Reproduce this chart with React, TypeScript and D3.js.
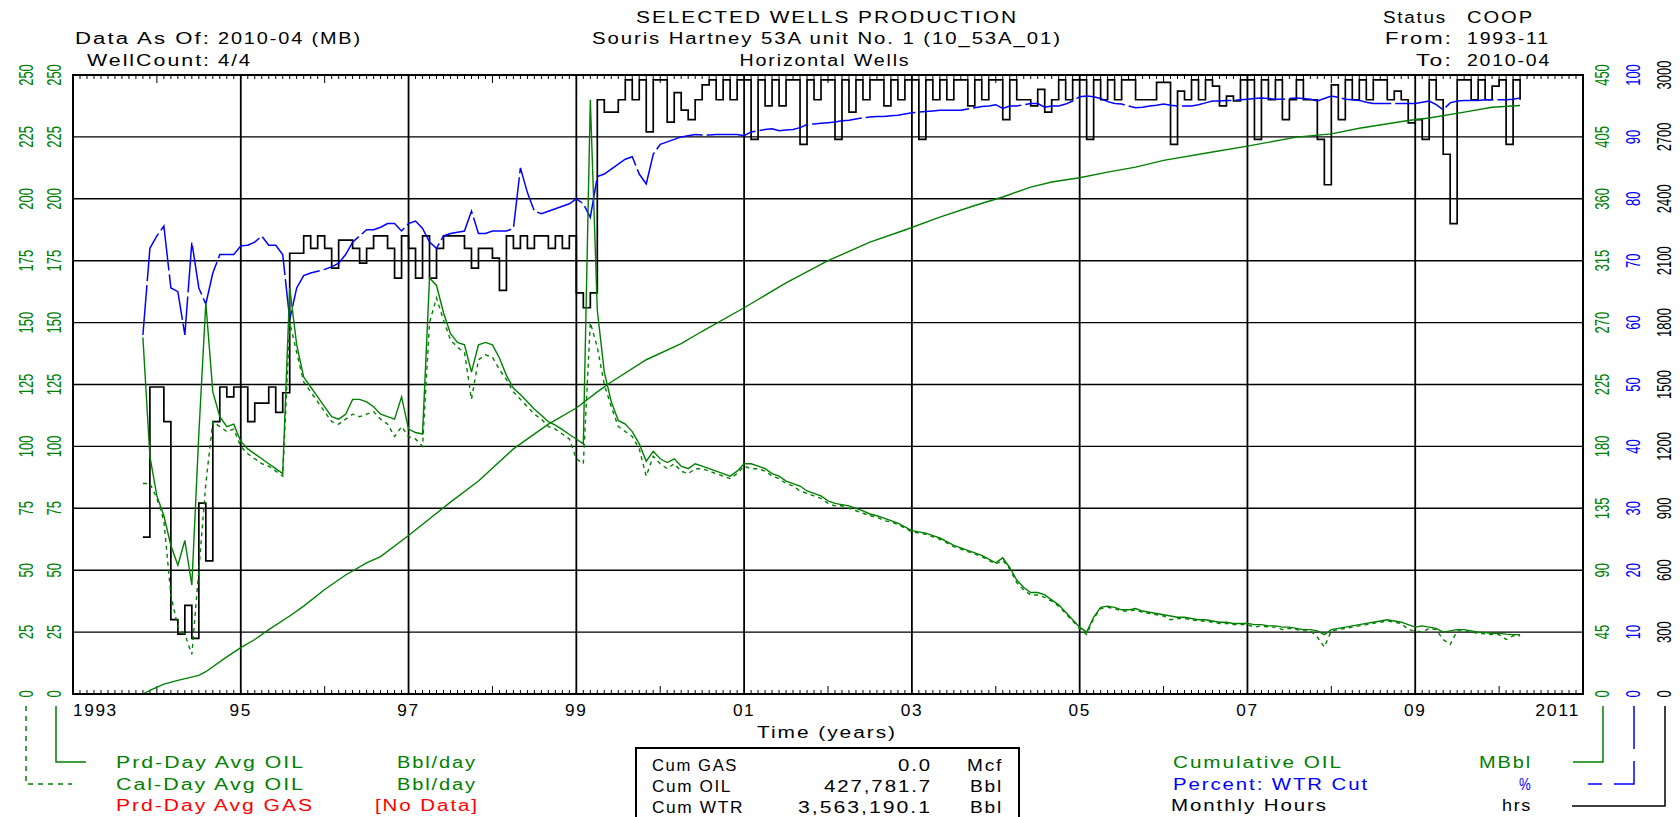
import React from "react";
import * as d3 from "d3";

// ---------- DATA (monthly, first month = 1993-11, last = 2010-04) ----------
const FIRST_YEAR = 1993;
const FIRST_MONTH = 11;

// Monthly Hours (hrs)
const MONTHLY_HOURS = [
  760, 1488,
  1488, 1320, 360, 290, 430, 270, 925, 645, 1320, 1488, 1440, 1488,
  1488, 1320, 1410, 1410, 1488, 1365, 1460, 2136, 2136, 2220, 2160, 2220,
  2160, 2064, 2200, 2200, 2160, 2088, 2160, 2220, 2220, 2160, 2016, 2220,
  2160, 2016, 2220, 2016, 2160, 2220, 2220, 2220, 2160, 2064, 2160, 2160,
  2112, 1956, 2220, 2160, 2220, 2160, 2220, 2220, 2160, 2220, 2160, 2220,
  1944, 1872, 1944, 2880, 2820, 2820, 2880, 2976, 2880, 2976, 2724, 2976,
  2976, 2772, 2915, 2830, 2784, 2880, 2952, 2976, 2880, 2976, 2880, 2976,
  2976, 2688, 2976, 2850, 2976, 2850, 2976, 2976, 2664, 2976, 2880, 2976,
  2976, 2688, 2976, 2820, 2976, 2880, 2976, 2976, 2850, 2976, 2880, 2976,
  2976, 2688, 2976, 2880, 2976, 2880, 2976, 2976, 2850, 2976, 2880, 2976,
  2976, 2784, 2976, 2880, 2880, 2850, 2930, 2820, 2880, 2976, 2880, 2976,
  2976, 2688, 2976, 2880, 2976, 2880, 2976, 2976, 2880, 2880, 2880, 2964,
  2964, 2664, 2922, 2880, 2976, 2880, 2976, 2946, 2850, 2898, 2874, 2976,
  2976, 2688, 2976, 2880, 2976, 2784, 2880, 2976, 2880, 2880, 2688, 2468,
  2952, 2784, 2976, 2880, 2976, 2880, 2976, 2976, 2880, 2922, 2880, 2768,
  2784, 2688, 2976, 2880, 2616, 2280, 2976, 2976, 2880, 2976, 2880, 2946,
  2976, 2664, 2976, 2880,
];

// Percent: WTR Cut (%)
const WTR_CUT_PCT = [
  58, 72,
  74, 75.6, 65.6, 65, 58, 73, 65.6, 63, 68, 71, 71, 71,
  72.4, 72.5, 73, 74, 72.5, 72.5, 71, 60.5, 65.6, 67.6, 68, 68.3,
  68.6, 69, 69.6, 71, 73, 74, 75, 75, 75.4, 76, 76, 74.8,
  76, 76.4, 75.2, 73, 72, 74, 74.4, 74.6, 74.8, 78, 74.4, 74.4,
  74.8, 74.8, 74.8, 75.2, 85, 81, 78, 77.6, 78, 78.4, 78.8, 79.2,
  80, 79.2, 77, 83.6, 84, 84.8, 85.6, 86.4, 86.8, 84, 82.4, 87.2,
  88.8, 89.2, 89.6, 90, 90.2, 90.4, 90.3, 90.3, 90.4, 90.4, 90.4, 90.4,
  90.2, 90.8, 91.0, 91.2, 91.3, 91.0, 91.1, 91.2, 91.5, 92.0, 92.1, 92.2,
  92.3, 92.4, 92.6, 92.7, 92.9, 93.1, 93.2, 93.3, 93.3, 93.4, 93.5, 93.7,
  93.9, 94.0, 94.1, 94.2, 94.3, 94.3, 94.3, 94.3, 94.5, 94.7, 94.9, 95.0,
  95.2, 94.6, 95.0, 95.0, 95.2, 95.4, 95.4, 94.8, 95.0, 95.0, 95.3, 95.8,
  96.5, 96.6, 96.5, 96.2, 95.7, 95.4, 95.3, 95.0, 94.7, 94.8, 95.0, 95.1,
  95.3, 95.1, 95.0, 95.0, 95.0, 95.2, 95.5, 95.8, 95.8, 95.9, 95.9, 96.0,
  96.1, 96.2, 96.3, 96.2, 96.1, 96.1, 96.2, 96.3, 96.2, 96.1, 95.8, 96.2,
  96.6, 96.4, 96.1, 96.0, 95.9, 95.6, 95.4, 95.4, 95.4, 95.4, 95.4, 95.4,
  95.4, 95.6, 95.8, 95.2, 94.4, 95.5, 95.8, 95.9, 95.9, 95.9, 96.0, 96.0,
  96.0, 96.0, 96.1, 96.3,
];

// Prd-Day Avg OIL (Bbl/day)
const PRD_DAY_OIL = [
  144, 96,
  80, 72, 60, 52, 62, 44, 105, 158, 122, 112, 108, 109,
  102, 99, 97, 95, 93, 91, 89, 164, 141, 128, 124, 120,
  116, 112, 111, 113, 119, 119, 118, 116, 113, 112, 111, 120,
  107, 105.6, 105, 168, 165, 154, 145.5, 142, 141, 130, 141, 142,
  141, 135.7, 128.7, 123.5, 121, 118, 115, 112.6, 110, 108.6, 106.8, 104.8,
  103, 101, 240, 155, 130, 118, 110.5, 109, 106, 101, 94, 98,
  95, 93.5, 95, 92, 91, 93, 92, 91, 90, 89, 88, 90,
  93, 93, 92, 91, 89, 88, 86, 85, 84, 82, 81, 80,
  78, 77, 76.5, 76, 75, 74, 72.7, 72, 71, 70, 69, 67.5,
  66, 65.5, 65, 64, 63, 61.5, 60, 59, 58, 57, 56, 54.5,
  53, 55, 51, 46, 43, 41, 41, 40, 38, 36, 33, 30,
  27, 25, 31, 35, 35.5, 35, 34, 34, 34.5, 33.5, 33, 32.5,
  32, 31.5, 31, 31, 30.5, 30, 30, 29.5, 29, 29, 28.5, 28.5,
  28.5, 28, 28, 27.5, 27.5, 27, 27, 26.5, 26, 26, 25.5, 24,
  26, 26.5, 27, 27.5, 28, 28.5, 29, 29.5, 30, 29.5, 29, 28,
  27, 27.5, 27, 26.5, 25, 25.5, 26, 26, 25.5, 25, 24.8, 24.5,
  24.5, 24.2, 24, 24,
];

// Cal-Day Avg OIL (Bbl/day)
const CAL_DAY_OIL = [
  85, 85,
  79, 70, 40, 27, 24, 16, 50, 85, 110, 108, 106, 107,
  100, 97, 95, 93, 92, 90, 88, 150, 138, 126, 122, 118,
  114, 110, 109, 111, 113, 112, 113, 114, 111, 109, 104, 108,
  104, 103, 100, 150, 160, 151, 143, 140, 138, 119, 135, 137,
  136, 131, 127, 122, 119, 116, 113, 111, 108, 107, 105, 103,
  95, 93, 150, 140, 125, 116, 108, 106, 104, 99, 88, 96,
  93, 91, 93, 90, 89, 91, 91, 90, 89, 88, 87, 89,
  92, 91, 91, 90, 88, 87, 85, 84, 82, 81, 80, 79,
  77, 76, 76, 75, 74, 73, 72, 71.5, 70, 69.5, 68.5, 67,
  65.5, 65, 64.5, 63.5, 62.5, 61, 59.5, 58.5, 57.5, 56.5, 55.5, 54,
  52.5, 54, 50.5, 45, 42, 40, 40, 39, 37.5, 35.5, 32.5, 29.5,
  26.5, 24, 30.5, 34.5, 35, 34.5, 33.5, 33.5, 34, 33, 32.5, 32,
  31.5, 30, 30.5, 30.5, 30, 29.5, 29.5, 29, 28.5, 28.5, 28, 28,
  28, 27, 27.5, 27, 27, 26, 26.5, 26, 25.5, 25.5, 23, 19,
  25.5, 26, 26.5, 27, 27.5, 28, 28.5, 29, 29.5, 29, 28.5, 26,
  25.5, 25, 26.5, 26, 22, 20, 25.5, 25.5, 25, 24.5, 24.3, 24,
  24, 22, 23.5, 23.5,
];

// Cumulative OIL (MBbl), read at these month offsets from 1993-11
const CUM_OIL_MONTH = [0, 1, 3, 5, 8, 9, 12, 14, 16, 18, 21, 23, 26, 29, 32, 34, 38, 44, 48, 53, 58, 62, 65, 67, 72, 77, 80, 86, 92, 98, 104, 109, 114, 119, 123, 127, 130, 134, 138, 142, 146, 153, 158, 165, 170, 174, 181, 184, 189, 193, 197];
const CUM_OIL_MBBL = [0, 2.7, 7.2, 9.9, 13.5, 16.2, 27, 33.7, 39.6, 46.8, 56.7, 63.9, 76, 86.5, 95.4, 99.9, 115.2, 139.5, 154.8, 178.2, 196.2, 207.9, 219.6, 226.8, 243, 254.7, 263.7, 280.8, 298.8, 315, 328.5, 337.3, 346.7, 355.1, 361.3, 368.5, 372.2, 375.3, 379.4, 383, 387.9, 394, 398.3, 404.8, 407.2, 411.3, 416.9, 418.7, 423, 426.6, 427.8];

// Axis ticks / labels
const X_LABEL_YEARS = [1993, 1995, 1997, 1999, 2001, 2003, 2005, 2007, 2009, 2011];
const X_LABELS = ["1993", "95", "97", "99", "01", "03", "05", "07", "09", "2011"];
const RATE_TICKS = [0, 25, 50, 75, 100, 125, 150, 175, 200, 225, 250];
const CUM_TICKS = [0, 45, 90, 135, 180, 225, 270, 315, 360, 405, 450];
const PCT_TICKS = [0, 10, 20, 30, 40, 50, 60, 70, 80, 90, 100];
const HRS_TICKS = [0, 300, 600, 900, 1200, 1500, 1800, 2100, 2400, 2700, 3000];

// ---------- LAYOUT ----------
const W = 1680;
const H = 817;
const L = 73;
const R = 1583;
const T = 75;
const B = 694;
const GREEN = "#008000";
const BLUE = "#0000ff";
const RED = "#ff0000";
const FONT = "'Liberation Sans', Arial, sans-serif";

const monthT = (i: number) => FIRST_YEAR + (FIRST_MONTH - 1 + i) / 12;

function Txt(props: { x: number; y: number; w: number; anchor?: string; fill?: string; text: string; size?: number }) {
  const { x, y, w, anchor = "start", fill = "#000", text, size = 16 } = props;
  return (
    <text
      x={x}
      y={y}
      textLength={w}
      lengthAdjust="spacingAndGlyphs"
      textAnchor={anchor as any}
      fill={fill}
      fontSize={size}
      fontFamily={FONT}
      style={{ letterSpacing: "1.5px" }}
    >
      {text}
    </text>
  );
}

function VLabel(props: { cx: number; cy: number; text: string; fill: string }) {
  return (
    <text
      transform={`translate(${props.cx},${props.cy}) scale(1.5,1) rotate(-90)`}
      textAnchor="middle"
      dominantBaseline="central"
      fontSize={13}
      fontFamily={FONT}
      fill={props.fill}
    >
      {props.text}
    </text>
  );
}

export default function App() {
  const x = d3.scaleLinear().domain([1993, 2011]).range([L, R]);
  const yRate = d3.scaleLinear().domain([0, 250]).range([B, T]);
  const yCum = d3.scaleLinear().domain([0, 450]).range([B, T]);
  const yPct = d3.scaleLinear().domain([0, 100]).range([B, T]);
  const yHrs = d3.scaleLinear().domain([0, 3000]).range([B, T]);

  const mk = (ys: d3.ScaleLinear<number, number>) =>
    d3.line<number>().x((_, i) => x(monthT(i))).y((v) => ys(v));

  const hoursPath = d3
    .line<number>()
    .curve(d3.curveStepAfter)
    .x((_, i) => x(monthT(i)))
    .y((v) => yHrs(v))(MONTHLY_HOURS) as string;
  const pctPath = mk(yPct)(WTR_CUT_PCT) as string;
  const prdPath = mk(yRate)(PRD_DAY_OIL) as string;
  const calPath = mk(yRate)(CAL_DAY_OIL) as string;
  const cumPath = d3
    .line<number>()
    .x((_, i) => x(monthT(CUM_OIL_MONTH[i])))
    .y((v) => yCum(v))(CUM_OIL_MBBL) as string;

  // month ticks along top & bottom frame
  const monthTicks = d3.range(0, 18 * 12 + 1);

  return (
    <svg width={W} height={H} style={{ position: "absolute", left: 0, top: 0, background: "#fff" }}>
      <rect x={0} y={0} width={W} height={H} fill="#fff" />

      {/* Header */}
      <Txt x={211} y={44} w={136} anchor="end" text="Data As Of:" />
      <Txt x={218} y={44} w={144} text="2010-04 (MB)" />
      <Txt x={211} y={66} w={124} anchor="end" text="WellCount:" />
      <Txt x={218} y={66} w={34} text="4/4" />

      <Txt x={827} y={23} w={382} anchor="middle" text="SELECTED WELLS PRODUCTION" />
      <Txt x={827} y={44} w={470} anchor="middle" text="Souris Hartney 53A unit No. 1 (10_53A_01)" />
      <Txt x={825} y={66} w={171} anchor="middle" text="Horizontal Wells" />

      <Txt x={1447} y={23} w={64} anchor="end" text="Status" />
      <Txt x={1467} y={23} w={67} text="COOP" />
      <Txt x={1453} y={44} w={68} anchor="end" text="From:" />
      <Txt x={1467} y={44} w={83} text="1993-11" />
      <Txt x={1453} y={66} w={37} anchor="end" text="To:" />
      <Txt x={1467} y={66} w={84} text="2010-04" />

      {/* Grid */}
      {RATE_TICKS.slice(1, -1).map((v) => (
        <line key={"h" + v} x1={L} x2={R} y1={yRate(v)} y2={yRate(v)} stroke="#000" strokeWidth={1.4} />
      ))}
      {X_LABEL_YEARS.slice(1, -1).map((yr) => (
        <line key={"v" + yr} x1={x(yr)} x2={x(yr)} y1={T} y2={B} stroke="#000" strokeWidth={1.8} />
      ))}

      {/* Month ticks */}
      {monthTicks.map((m) => {
        const xx = x(1993 + m / 12);
        const len = m % 24 === 12 ? 8 : 4;
        return (
          <g key={"t" + m}>
            <line x1={xx} x2={xx} y1={T} y2={T + len} stroke="#000" strokeWidth={1} />
            <line x1={xx} x2={xx} y1={B} y2={B - len} stroke="#000" strokeWidth={1} />
          </g>
        );
      })}

      {/* Series */}
      <path d={hoursPath} fill="none" stroke="#000" strokeWidth={1.7} />
      <path d={cumPath} fill="none" stroke={GREEN} strokeWidth={1.4} />
      <path d={pctPath} fill="none" stroke={BLUE} strokeWidth={1.5} strokeDasharray="50,4" />
      <path d={prdPath} fill="none" stroke={GREEN} strokeWidth={1.4} />
      <path d={calPath} fill="none" stroke={GREEN} strokeWidth={1.4} strokeDasharray="4,4" />

      {/* Frame */}
      <rect x={L} y={T} width={R - L} height={B - T} fill="none" stroke="#000" strokeWidth={2} />

      {/* Left axes (two identical rate axes) */}
      {RATE_TICKS.map((v) => (
        <g key={"la" + v}>
          <VLabel cx={27} cy={yRate(v)} text={String(v)} fill={GREEN} />
          <VLabel cx={55} cy={yRate(v)} text={String(v)} fill={GREEN} />
        </g>
      ))}
      {/* Right axes */}
      {CUM_TICKS.map((v) => (
        <VLabel key={"rc" + v} cx={1603} cy={yCum(v)} text={String(v)} fill={GREEN} />
      ))}
      {PCT_TICKS.map((v) => (
        <VLabel key={"rp" + v} cx={1634} cy={yPct(v)} text={String(v)} fill={BLUE} />
      ))}
      {HRS_TICKS.map((v) => (
        <VLabel key={"rh" + v} cx={1665} cy={yHrs(v)} text={String(v)} fill="#000" />
      ))}

      {/* X labels */}
      {X_LABEL_YEARS.map((yr, i) => {
        const lab = X_LABELS[i];
        const w = lab.length * 11.2;
        if (i === 0) return <Txt key={lab} x={L} y={716} w={w} text={lab} />;
        if (i === X_LABEL_YEARS.length - 1) return <Txt key={lab} x={R - 3} y={716} w={w} anchor="end" text={lab} />;
        return <Txt key={lab} x={x(yr)} y={716} w={w} anchor="middle" text={lab} />;
      })}
      <Txt x={827} y={738} w={140} anchor="middle" text="Time (years)" />

      {/* Left legend */}
      <path d="M26,706 V784 H72" fill="none" stroke={GREEN} strokeWidth={1.5} strokeDasharray="5,5" />
      <path d="M56,706 V762 H86" fill="none" stroke={GREEN} strokeWidth={1.5} />
      <Txt x={116} y={768} w={189} fill={GREEN} text="Prd-Day Avg OIL" />
      <Txt x={477} y={768} w={80} anchor="end" fill={GREEN} text="Bbl/day" />
      <Txt x={116} y={790} w={189} fill={GREEN} text="Cal-Day Avg OIL" />
      <Txt x={477} y={790} w={80} anchor="end" fill={GREEN} text="Bbl/day" />
      <Txt x={116} y={811} w={198} fill={RED} text="Prd-Day Avg GAS" />
      <Txt x={479} y={811} w={104} anchor="end" fill={RED} text="[No Data]" />

      {/* Stats box */}
      <rect x={636} y={748} width={383} height={90} fill="none" stroke="#000" strokeWidth={2} />
      <Txt x={652} y={771} w={86} text="Cum GAS" />
      <Txt x={932} y={771} w={34} anchor="end" text="0.0" />
      <Txt x={1003} y={771} w={36} anchor="end" text="Mcf" />
      <Txt x={652} y={792} w={80} text="Cum OIL" />
      <Txt x={932} y={792} w={108} anchor="end" text="427,781.7" />
      <Txt x={1003} y={792} w={33} anchor="end" text="Bbl" />
      <Txt x={652} y={813} w={92} text="Cum WTR" />
      <Txt x={932} y={813} w={134} anchor="end" text="3,563,190.1" />
      <Txt x={1003} y={813} w={33} anchor="end" text="Bbl" />

      {/* Right legend */}
      <path d="M1603,706 V762 H1573" fill="none" stroke={GREEN} strokeWidth={1.5} />
      <path d="M1634,706 V784 H1588" fill="none" stroke={BLUE} strokeWidth={1.5} strokeDasharray="43,12" />
      <path d="M1665,706 V806 H1572" fill="none" stroke="#000" strokeWidth={1.5} />
      <Txt x={1173} y={768} w={170} fill={GREEN} text="Cumulative OIL" />
      <Txt x={1532} y={768} w={53} anchor="end" fill={GREEN} text="MBbl" />
      <Txt x={1173} y={790} w={196} fill={BLUE} text="Percent: WTR Cut" />
      <Txt x={1532} y={790} w={13} anchor="end" fill={BLUE} text="%" />
      <Txt x={1171} y={811} w={157} text="Monthly Hours" />
      <Txt x={1532} y={811} w={30} anchor="end" text="hrs" />
    </svg>
  );
}
